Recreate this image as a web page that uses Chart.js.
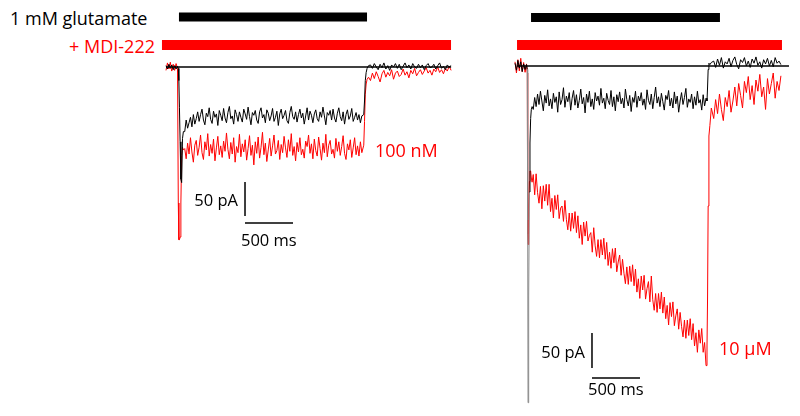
<!DOCTYPE html>
<html>
<head>
<meta charset="utf-8">
<script src="https://cdn.jsdelivr.net/npm/chart.js@4.4.1/dist/chart.umd.min.js"></script>
<style>
  body { margin: 0; background: #fff; }
  #fig { position: relative; width: 800px; height: 416px; background: #fff; overflow: hidden; font-family: "Open Sans", sans-serif; }
  #fig canvas { position: absolute; top: 0; }
  .txt { position: absolute; line-height: 1; white-space: nowrap; transform: translateY(-50%); }
  .rojo { color: #ff0000; }
</style>
</head>
<body>
<div id="fig">
  <canvas id="trazoIzq" width="300" height="416" style="left:160px"></canvas>
  <canvas id="trazoDer" width="300" height="416" style="left:500px"></canvas>
  <div class="txt" style="left:10px; top:18px; font-size:18px">1 mM glutamate</div>
  <div class="txt rojo" style="right:645px; top:46px; font-size:18px">+ MDI-222</div>
  <div class="txt rojo" style="left:375px; top:150px; font-size:18px">100 nM</div>
  <div class="txt rojo" style="left:719px; top:348px; font-size:18px">10 µM</div>
  <div class="txt" style="right:562px; top:200px; font-size:16.5px">50 pA</div>
  <div class="txt" style="left:241px; top:240px; font-size:16.5px">500 ms</div>
  <div class="txt" style="right:215px; top:352px; font-size:16.5px">50 pA</div>
  <div class="txt" style="left:588px; top:389px; font-size:16.5px">500 ms</div>
</div>
<script>
// Tiempo (ms) y corriente (pA)

// --- Panel izquierdo: 100 nM ---
const tIzq = [
  0, 15, 30, 45, 60, 75, 90, 105, 120,
  128, 134, 140, 147, 155, 163, 172, 181,
  195, 210, 225, 240, 255, 270, 285, 300, 315, 330,
  345, 360, 375, 390, 405, 420, 435, 450, 465, 480,
  495, 510, 525, 540, 555, 570, 585, 600, 615, 630,
  645, 660, 675, 690, 705, 720, 735, 750, 765, 780,
  795, 810, 825, 840, 855, 870, 885, 900, 915, 930,
  945, 960, 975, 990, 1005, 1020, 1035, 1050, 1065, 1080,
  1095, 1110, 1125, 1140, 1155, 1170, 1185, 1200, 1215, 1230,
  1245, 1260, 1275, 1290, 1305, 1320, 1335, 1350, 1365, 1380,
  1395, 1410, 1425, 1440, 1455, 1470, 1485, 1500, 1515, 1530,
  1545, 1560, 1575, 1590, 1605, 1620, 1635, 1650, 1665, 1680,
  1695, 1710, 1725, 1740, 1755, 1770, 1785, 1800, 1815, 1830,
  1845, 1860, 1875, 1890, 1905, 1920, 1935, 1950, 1965, 1980,
  1995, 2010, 2025, 2040,
  2060, 2068, 2076, 2085, 2095, 2110,
  2130, 2150, 2170, 2190, 2210, 2230, 2250, 2270, 2290, 2310,
  2330, 2350, 2370, 2390, 2410, 2430, 2450, 2470, 2490, 2510,
  2530, 2550, 2570, 2590, 2610, 2630, 2650, 2670, 2690, 2710,
  2730, 2750, 2770, 2790, 2810, 2830, 2850, 2870, 2890, 2910,
  2930, 2950, 2970
];
const controlIzq = [
  2, -3, 4, -2, 3, -4, 2, -3, 1,
  -2, -20, -60, -110, -165, -170, -105, -95,
  -95, -78, -90, -82, -74, -88, -70, -84, -76, -66,
  -80, -70, -62, -78, -85, -68, -73, -60, -77, -83,
  -65, -74, -69, -86, -64, -71, -79, -61, -75, -82,
  -67, -58, -76, -72, -84, -63, -70, -80, -66, -74,
  -81, -62, -69, -77, -59, -73, -85, -67, -71, -64,
  -78, -83, -66, -60, -75, -70, -82, -63, -68, -79,
  -72, -61, -80, -74, -65, -86, -69, -62, -76, -71,
  -64, -79, -83, -67, -58, -73, -77, -66, -81, -70,
  -62, -75, -68, -84, -72, -60, -78, -65, -71, -82,
  -69, -63, -76, -80, -66, -74, -59, -72, -85, -67,
  -71, -64, -78, -62, -75, -81, -68, -60, -73, -79,
  -66, -84, -70, -63, -77, -72, -61, -80, -74, -67,
  -78, -70, -82, -72,
  -70, -50, -20, -8, -2, 2,
  3, -2, 5, 0, -4, 4, -1, 6, -3, 2,
  -5, 3, 0, 5, -2, 4, -4, 1, 6, -1,
  3, -3, 5, 0, -2, 4, -1, 3, -4, 2,
  5, -1, 0, 4, -3, 2, 6, -2, 1, -4,
  3, 0, 2
];
const mdiIzq = [
  -5, 6, -3, 7, -6, 4, -5, 5, -2,
  -200, -254, -254, -250, -200, -130, -118, -122,
  -120, -135, -112, -128, -104, -125, -140, -115, -108, -130,
  -118, -100, -126, -136, -110, -122, -98, -131, -114, -127,
  -106, -138, -119, -102, -129, -116, -133, -109, -124, -97,
  -121, -135, -111, -128, -104, -140, -117, -126, -99, -132,
  -113, -125, -107, -137, -120, -101, -130, -115, -144, -110,
  -127, -103, -134, -118, -96, -129, -112, -139, -122, -105,
  -131, -116, -100, -128, -123, -108, -136, -114, -126, -102,
  -119, -133, -107, -124, -98, -130, -117, -138, -111, -125,
  -104, -129, -121, -134, -109, -117, -100, -127, -113, -135,
  -106, -123, -131, -103, -120, -137, -112, -126, -99, -132,
  -115, -108, -128, -121, -134, -105, -124, -110, -130, -117,
  -101, -127, -136, -113, -122, -107, -133, -119, -104, -129,
  -116, -131, -110, -126,
  -115, -80, -40, -25, -18, -15,
  -20, -9, -17, -7, -14, -22, -10, -5, -15, -8,
  -13, -4, -18, -9, -6, -14, -11, -3, -12, -7,
  -16, -5, -10, -2, -13, -8, -4, -11, -6, -1,
  -9, -5, -12, -3, -7, 0, -8, -4, -10, -2,
  -6, 1, -5
];

// --- Panel derecho: 10 µM ---
const tDer = [
  0, 15, 30, 45, 60, 75, 90, 105, 120,
  128, 132, 136, 140, 145, 150, 156, 163, 170, 178,
  190, 205, 220, 235, 250, 265, 280, 295, 310, 325,
  340, 355, 370, 385, 400, 415, 430, 445, 460, 475,
  490, 505, 520, 535, 550, 565, 580, 595, 610, 625,
  640, 655, 670, 685, 700, 715, 730, 745, 760, 775,
  790, 805, 820, 835, 850, 865, 880, 895, 910, 925,
  940, 955, 970, 985, 1000, 1015, 1030, 1045, 1060, 1075,
  1090, 1105, 1120, 1135, 1150, 1165, 1180, 1195, 1210, 1225,
  1240, 1255, 1270, 1285, 1300, 1315, 1330, 1345, 1360, 1375,
  1390, 1405, 1420, 1435, 1450, 1465, 1480, 1495, 1510, 1525,
  1540, 1555, 1570, 1585, 1600, 1615, 1630, 1645, 1660, 1675,
  1690, 1705, 1720, 1735, 1750, 1765, 1780, 1795, 1810, 1825,
  1840, 1855, 1870, 1885, 1900, 1915, 1930, 1945, 1960, 1975,
  1990,
  2000, 2006, 2012, 2020, 2030, 2045,
  2070, 2090, 2110, 2130, 2150, 2170, 2190, 2210, 2230, 2250,
  2270, 2290, 2310, 2330, 2350, 2370, 2390, 2410, 2430, 2450,
  2470, 2490, 2510, 2530, 2550, 2570, 2590, 2610, 2630, 2650,
  2670, 2690, 2710, 2730, 2750, 2770
];
const controlDer = [
  4, -6, 8, -3, 6, -8, 3, -5, 2,
  -5, -220, -481, -478, -330, -180, -110, -75, -62, -58,
  -62, -45, -58, -40, -55, -36, -50, -64, -42, -53,
  -34, -57, -47, -61, -39, -52, -44, -66, -37, -55,
  -48, -31, -59, -43, -51, -38, -63, -46, -35, -56,
  -41, -60, -49, -33, -54, -45, -67, -40, -52, -36,
  -58, -47, -62, -38, -50, -43, -56, -32, -53, -46,
  -61, -39, -49, -55, -35, -58, -44, -64, -41, -51,
  -37, -54, -46, -60, -33, -48, -57, -42, -65, -45,
  -52, -36, -59, -43, -50, -38, -56, -47, -62, -34,
  -49, -55, -40, -61, -45, -30, -53, -44, -58, -39,
  -51, -63, -42, -48, -35, -57, -46, -60, -37, -54,
  -43, -66, -50, -38, -55, -45, -32, -59, -47, -52,
  -40, -61, -44, -56, -36, -53, -48, -63, -41, -57,
  -46,
  -50, -30, -5, 4, 2, 5,
  7, -2, 10, 1, 12, -3, 6, 3, 11, -1,
  8, 13, 2, -4, 9, 5, 12, 0, 7, -2,
  10, 4, 13, 1, 6, -3, 9, 3, 11, 0,
  8, -1, 12, 4, 7, 2
];
const mdiDer = [
  6, -10, 9, -7, 11, -8, 5, -9, 3,
  -10, -240, -255, -240, -200, -165, -150, -150, -160, -166,
  -155, -184, -154, -181, -196, -172, -204, -171, -193, -169,
  -199, -169, -208, -189, -217, -185, -205, -184, -218, -203,
  -200, -222, -192, -219, -234, -210, -236, -210, -232, -208,
  -238, -214, -246, -227, -255, -223, -243, -222, -250, -242,
  -238, -266, -231, -257, -272, -248, -274, -248, -270, -246,
  -276, -252, -285, -266, -289, -261, -281, -260, -294, -280,
  -270, -299, -276, -296, -311, -287, -312, -286, -308, -284,
  -314, -290, -323, -304, -332, -300, -320, -299, -333, -318,
  -308, -337, -300, -334, -349, -325, -352, -325, -347, -323,
  -353, -330, -361, -342, -370, -338, -358, -337, -371, -357,
  -347, -376, -352, -372, -387, -363, -389, -363, -385, -361,
  -391, -368, -400, -381, -409, -377, -396, -375, -409, -395,
  -428,
  -400, -330, -200, -100, -85, -60,
  -75, -48, -68, -40, -62, -78, -45, -58, -35, -66,
  -50, -30, -57, -25, -42, -60, -22, -38, -15, -48,
  -28, -55, -20, -36, -12, -44, -30, -62, -18, -40,
  -25, -10, -46, -22, -35, -14
];

// Barras de aplicacion: [inicio, fin] en ms
const glutamatoIzq = [135, 2094];
const mdiBarraIzq = [-42, 2969];
const glutamatoDer = [167, 2135];
const mdiBarraDer = [21, 2781];

function puntos(t, v) {
  return v.map((y, i) => ({ x: t[i], y: y }));
}

function segmento(x0, x1, y0, y1) {
  return [{ x: x0, y: y0 }, { x: x1, y: y1 === undefined ? y0 : y1 }];
}

function crearPanel(id, o) {
  const linea = { pointRadius: 0, tension: 0, fill: false, borderCapStyle: 'butt' };
  const datasets = [
    Object.assign({ data: segmento(o.base[0], o.base[1], 0), borderColor: '#000', borderWidth: 1.5, order: 0 }, linea),
    Object.assign({
      data: puntos(o.t, o.control), borderColor: '#000', borderWidth: 1, order: 1,
      segment: { borderColor: c => (o.gris && c.p0.parsed.x >= 128 && c.p1.parsed.x <= 150) ? '#8a8a8a' : '#000' }
    }, linea),
    Object.assign({ data: puntos(o.t, o.mdi), borderColor: '#ff0000', borderWidth: 1, order: 2 }, linea),
    Object.assign({ data: segmento(o.glu[0], o.glu[1], o.yGlu), borderColor: '#000', borderWidth: 9, order: 3 }, linea),
    Object.assign({ data: segmento(o.barra[0], o.barra[1], o.yBarra), borderColor: '#ff0000', borderWidth: 10, order: 3 }, linea),
    // barras de escala: 50 pA y 500 ms
    Object.assign({ data: segmento(o.esc[0], o.esc[0], o.esc[1], o.esc[1] - 50), borderColor: '#000', borderWidth: 1.5, order: 0 }, linea),
    Object.assign({ data: segmento(o.esc[0], o.esc[0] + 500, o.esc[2]), borderColor: '#000', borderWidth: 1.5, order: 0 }, linea)
  ];
  return new Chart(document.getElementById(id), {
    type: 'line',
    data: { datasets: datasets },
    options: {
      responsive: false,
      animation: false,
      events: [],
      layout: { padding: 0 },
      plugins: { legend: { display: false }, tooltip: { enabled: false } },
      scales: {
        x: { type: 'linear', min: o.xr[0], max: o.xr[1], display: false },
        y: { min: o.yr[0], max: o.yr[1], display: false }
      }
    }
  });
}

document.addEventListener('DOMContentLoaded', () => {
  crearPanel('trazoIzq', {
    t: tIzq, control: controlIzq, mdi: mdiIzq,
    base: [0, 2970], glu: glutamatoIzq, yGlu: 73.5, barra: mdiBarraIzq, yBarra: 32.3,
    esc: [823, -169, -229.4], gris: false,
    xr: [-62.5, 3062.5], yr: [-513.2, 98.5]
  });
  crearPanel('trazoDer', {
    t: tDer, control: controlDer, mdi: mdiDer,
    base: [21, 2854], glu: glutamatoDer, yGlu: 69.3, barra: mdiBarraDer, yBarra: 30,
    esc: [802, -381.4, -445.7], gris: true,
    xr: [-156.25, 2968.75], yr: [-500, 94.3]
  });
});
</script>
</body>
</html>
